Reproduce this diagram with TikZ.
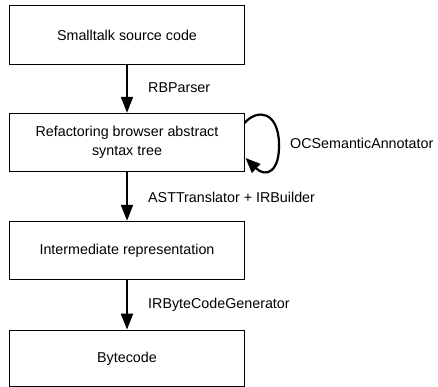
\documentclass[tikz,border=0pt]{standalone}
\usepackage{fontspec}
\setmainfont{Liberation Sans}
\usetikzlibrary{arrows.meta}
\begin{document}
\begin{tikzpicture}[x=1pt,y=-1pt,
  box/.style={draw=black,line width=0.9pt,minimum width=234.5pt,minimum height=58.5pt,inner sep=0pt,align=center,font=\fontsize{14.3}{19}\selectfont},
  lbl/.style={anchor=west,inner sep=0pt,font=\fontsize{14.3}{19}\selectfont},
  arr/.style={line width=2.2pt,-{Triangle[length=16pt,width=12pt]}}]
\useasboundingbox (0,0) rectangle (438,387);
\node[box] (b1) at (127,35) {Smalltalk source code};
\node[box] (b2) at (127,142.5) {Refactoring browser abstract\\syntax tree};
\node[box] (b3) at (127,250.5) {Intermediate representation};
\node[box,minimum height=56.5pt] (b4) at (127,358.3) {Bytecode};
\draw[arr] (b1.south) -- (b2.north);
\draw[arr] (b2.south) -- (b3.north);
\draw[arr] (b3.south) -- (b4.north);
\coordinate (ls) at (244.5,123);
\coordinate (le) at (245.5,158);
\draw[line width=2.2pt,-{Triangle[length=15pt,width=12pt]}] (ls) .. controls (258,108) and (278,112) .. (279,143) .. controls (280,172) and (266,178) .. (le);
\node[lbl] (l1) at (148,88) {RBParser};
\node[lbl] (l2) at (148,197) {ASTTranslator + IRBuilder};
\node[lbl] (l3) at (148,305) {IRByteCodeGenerator};
\node[lbl] (l4) at (290,143) {OCSemanticAnnotator};
\end{tikzpicture}
\end{document}
